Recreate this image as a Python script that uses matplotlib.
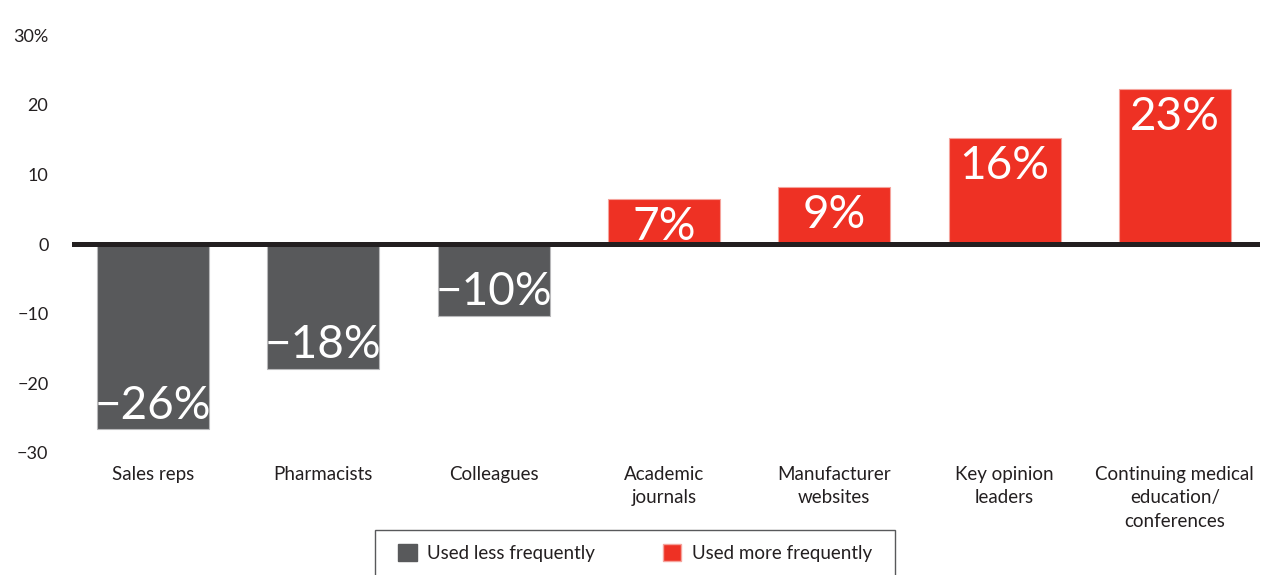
import matplotlib
matplotlib.use("Agg")
import matplotlib.pyplot as plt
from matplotlib.patches import Rectangle, Patch

plt.rcParams['font.family'] = ['Lato', 'DejaVu Sans']

# data
categories = ['Sales reps', 'Pharmacists', 'Colleagues', 'Academic\njournals',
              'Manufacturer\nwebsites', 'Key opinion\nleaders',
              'Continuing medical\neducation/\nconferences']
values = [-26.6, -17.9, -10.3, 6.5, 8.2, 15.2, 22.3]
value_labels = ['\u221226%', '\u221218%', '\u221210%', '7%', '9%', '16%', '23%']
yticks = [-30, -20, -10, 0, 10, 20, 30]
ytick_labels = ['\u221230', '\u221220', '\u221210', '0', '10', '20', '30%']

gray = '#58595b'
red = '#ee3124'
dark = '#231f20'

fig = plt.figure(figsize=(12.64, 5.75), dpi=100)
ax = fig.add_axes([0.057, 0.2122, 0.9398, 0.7269])

x = list(range(len(categories)))
colors = [gray if v < 0 else red for v in values]
edges = ['#b8b8ba' if v < 0 else '#f5a39c' for v in values]
ax.bar(x, values, width=0.658, color=colors, edgecolor=edges, linewidth=0.8, zorder=2)

# zero line
ax.axhline(0, color=dark, lw=3.6, zorder=3)

# value labels inside the bar ends
for xi, v, lab in zip(x, values, value_labels):
    if v >= 0:
        ax.annotate(lab, (xi, v), xytext=(0, -5), textcoords='offset points',
                    ha='center', va='top', color='white', fontsize=33,
                    fontweight='normal', zorder=4)
    else:
        ax.annotate(lab, (xi, v), xytext=(0, 2), textcoords='offset points',
                    ha='center', va='bottom', color='white', fontsize=33,
                    fontweight='normal', zorder=4)

ax.set_xlim(-0.476, 6.50)
ax.set_ylim(-30, 30)
ax.set_yticks(yticks)
ax.set_yticklabels(ytick_labels)
ax.set_xticks(x)
ax.set_xticklabels(categories, linespacing=1.45)
ax.tick_params(axis='y', length=0, pad=17, labelsize=13, labelcolor=dark)
ax.tick_params(axis='x', length=0, pad=9.5, labelsize=13.5, labelcolor=dark)
for s in ax.spines.values():
    s.set_visible(False)

# legend with box running off the bottom edge
fig.patches.append(Rectangle((0.2967, -0.05), 0.4114, 0.1283, transform=fig.transFigure,
                             fill=False, edgecolor=gray, lw=1.0))
handles = [Patch(facecolor=gray, edgecolor=gray, label='Used less frequently'),
           Patch(facecolor=red, edgecolor='#f5a39c', label='Used more frequently')]
fig.legend(handles=handles, loc='center', bbox_to_anchor=(0.5024, 0.038),
           ncol=2, frameon=False, fontsize=13.5, handlelength=1.0, handleheight=1.0,
           handletextpad=0.55, columnspacing=3.6, labelcolor=dark)

fig.savefig('out.png', dpi=100)
